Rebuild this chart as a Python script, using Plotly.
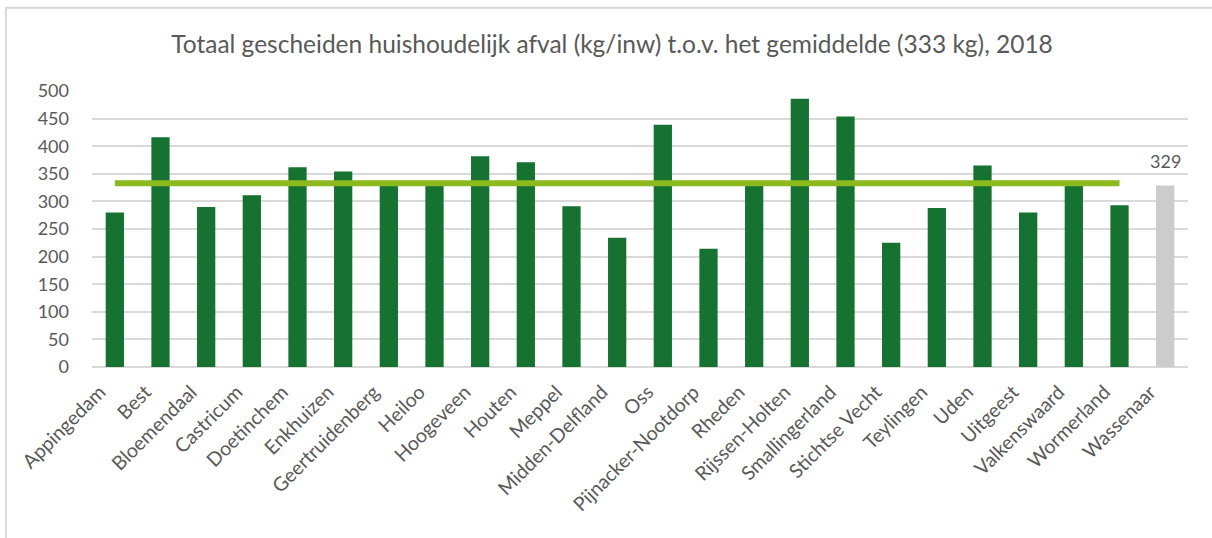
import plotly.graph_objects as go

gemeenten = ["Appingedam", "Best", "Bloemendaal", "Castricum", "Doetinchem", "Enkhuizen",
             "Geertruidenberg", "Heiloo", "Hoogeveen", "Houten", "Meppel", "Midden-Delfland",
             "Oss", "Pijnacker-Nootdorp", "Rheden", "Rijssen-Holten", "Smallingerland",
             "Stichtse Vecht", "Teylingen", "Uden", "Uitgeest", "Valkenswaard", "Wormerland",
             "Wassenaar"]
afval_kg = [280, 416, 290, 311, 362, 354, 334, 336, 382, 371, 291, 234, 439, 214, 335,
            486, 454, 225, 288, 365, 280, 335, 293, 329]
gemiddelde = 333
highlight = "Wassenaar"
y_ticks = [0, 50, 100, 150, 200, 250, 300, 350, 400, 450, 500]

FONT = "Lato, 'Open Sans', sans-serif"
TXT = "#595959"

colors = ["#CCCCCC" if g == highlight else "#157230" for g in gemeenten]

fig = go.Figure()
fig.add_trace(go.Bar(x=gemeenten, y=afval_kg, marker=dict(color=colors, line=dict(width=0)),
                     hoverinfo="x+y"))
line_x = [g for g in gemeenten if g != highlight]
fig.add_trace(go.Scatter(x=line_x, y=[gemiddelde] * len(line_x), mode="lines",
                         line=dict(color="#8CBA1E", width=6), hoverinfo="skip"))

hi_idx = gemeenten.index(highlight)
fig.add_annotation(x=highlight, y=afval_kg[hi_idx], text=str(afval_kg[hi_idx]),
                   showarrow=False, yshift=24, font=dict(family=FONT, size=18, color=TXT))

# chart border (Excel chart-area outline)
fig.add_shape(type="rect", xref="paper", yref="paper", x0=-0.0785, x1=1.2, y0=-1.0, y1=1.302,
              line=dict(color="#D9D9D9", width=2), layer="below")

fig.update_layout(
    width=1212, height=538,
    margin=dict(l=92, r=24, t=91, b=171, autoexpand=False),
    paper_bgcolor="white", plot_bgcolor="white",
    showlegend=False,
    bargap=0.6,
    title=dict(text="Totaal gescheiden huishoudelijk afval (kg/inw) t.o.v. het gemiddelde (333 kg), 2018",
               x=0.505, xanchor="center", y=0.918, yanchor="middle",
               font=dict(family=FONT, size=24.5, color=TXT)),
    font=dict(family=FONT, size=18, color=TXT),
)
fig.update_xaxes(tickangle=-45, showgrid=False, showline=False, ticks="", automargin=False,
                 ticklabelshift=-15, ticklabelstandoff=9,
                 tickfont=dict(family=FONT, size=19.5, color=TXT))
fig.update_yaxes(range=[0, 500], tickvals=y_ticks, showgrid=True, gridcolor="#D9D9D9",
                 gridwidth=1.5, zeroline=True, zerolinecolor="#D9D9D9", zerolinewidth=1.5,
                 showline=False, ticks="", ticklabelstandoff=22, automargin=False,
                 tickfont=dict(family=FONT, size=18, color=TXT))

fig.write_html("out.html", config={"displayModeBar": False},
               post_script="document.body.style.margin='0';")
